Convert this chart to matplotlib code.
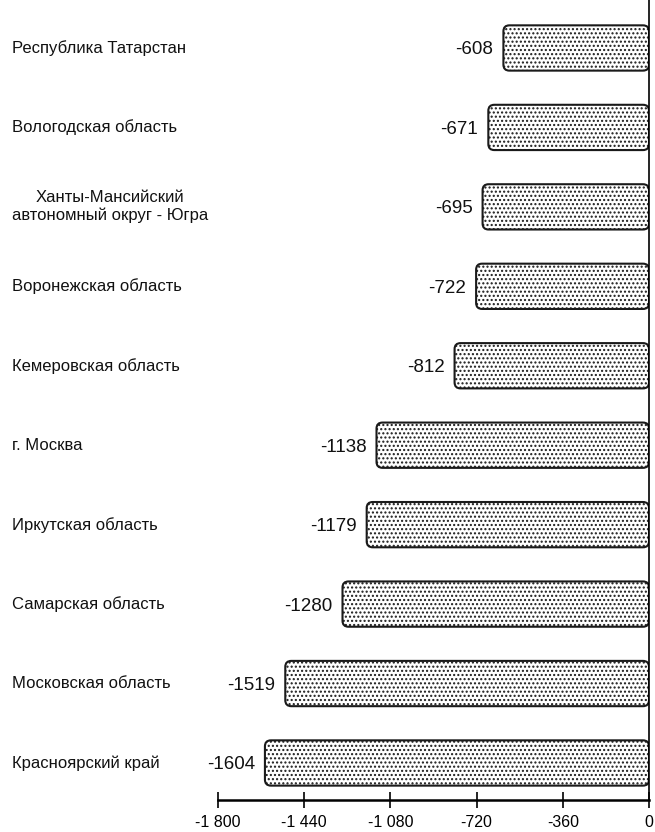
import matplotlib
matplotlib.use("Agg")
import matplotlib.pyplot as plt
from matplotlib.patches import FancyBboxPatch
from matplotlib.ticker import FuncFormatter
import matplotlib.transforms as mtransforms

regions = ["Республика Татарстан", "Вологодская область",
           "Ханты-Мансийский\nавтономный округ - Югра", "Воронежская область",
           "Кемеровская область", "г. Москва", "Иркутская область",
           "Самарская область", "Московская область", "Красноярский край"]
values = [-608, -671, -695, -722, -812, -1138, -1179, -1280, -1519, -1604]
xticks = [-1800, -1440, -1080, -720, -360, 0]

plt.rcParams['font.family'] = ['Liberation Sans', 'DejaVu Sans']
plt.rcParams['hatch.color'] = '#555555'
plt.rcParams['hatch.linewidth'] = 1.0

W, H = 655, 832
fig = plt.figure(figsize=(W/100, H/100), dpi=100)
ax = fig.add_axes([218/W, 1-800/H, (649-218)/W, 800/H])

n = len(regions)
ypos = [n-1-i for i in range(n)]
xlo, xhi = -1800, 0
ylo, yhi = -0.466, 9.604
ax.set_xlim(xlo, xhi)
ax.set_ylim(ylo, yhi)

bars = ax.barh(ypos, values, height=0.57, color='none', edgecolor='none')

pxx = (649-218)/(xhi-xlo)
pxy = 800/(yhi-ylo)
r = 6/pxx
for b in bars:
    x0, y0, w, h = b.get_x(), b.get_y(), b.get_width(), b.get_height()
    left = min(x0, x0+w)
    ww = abs(w)
    p = FancyBboxPatch((left, y0), ww, h,
                       boxstyle=f"round,pad=0,rounding_size={r}",
                       mutation_aspect=pxx/pxy,
                       facecolor='white', edgecolor='#1a1a1a', linewidth=1.5,
                       hatch='....', zorder=2)
    ax.add_patch(p)

for y, v in zip(ypos, values):
    ax.text(v - 10/pxx, y, f"{v}", ha='right', va='center_baseline', fontsize=13.5, color='#111111')

trans = mtransforms.blended_transform_factory(fig.transFigure, ax.transData)
for y, lab in zip(ypos, regions):
    ax.text(12/W, y, lab, transform=trans, ha='left', va='center',
            fontsize=12, multialignment='center', color='#111111')

for s in ['left', 'top']:
    ax.spines[s].set_visible(False)
ax.spines['right'].set_linewidth(1.2)
ax.spines['bottom'].set_linewidth(1.8)
ax.set_yticks([])
ax.set_xticks(xticks)
ax.xaxis.set_major_formatter(FuncFormatter(lambda x, p: f"{int(x):,}".replace(",", " ")))
ax.tick_params(axis='x', direction='inout', length=11, width=1.2, labelsize=11.5, pad=5)

fig.savefig("out.png", dpi=100)
